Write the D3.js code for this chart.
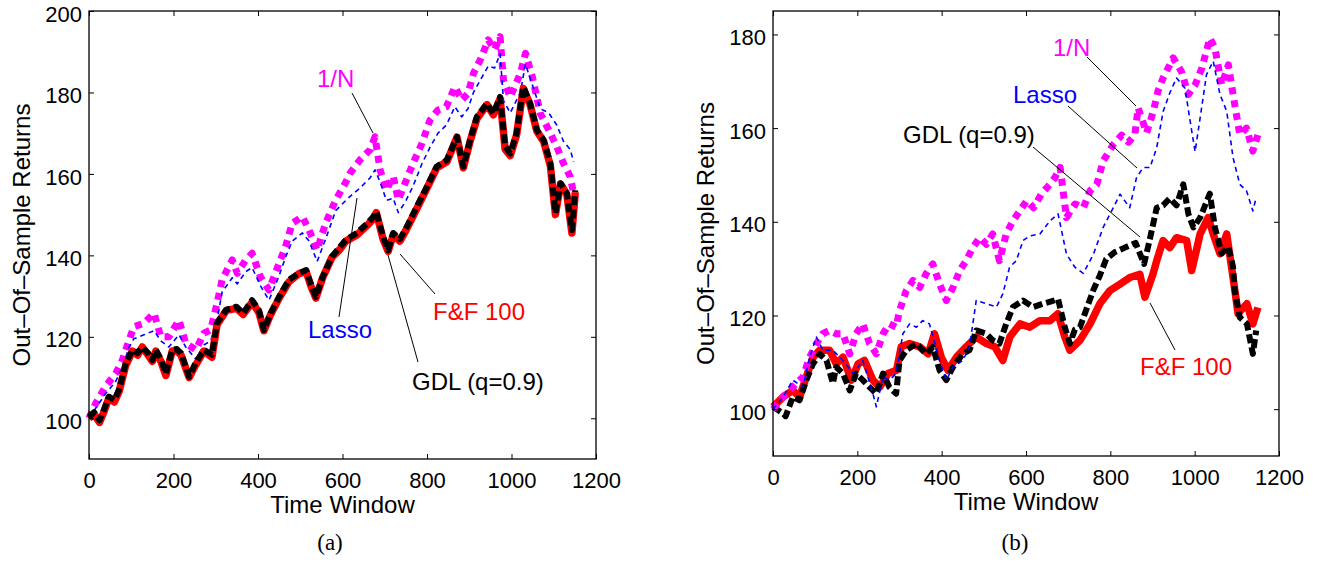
<!DOCTYPE html>
<html>
<head>
<meta charset="utf-8">
<script src="https://cdn.jsdelivr.net/npm/d3@7"></script>
<style>
  body { margin: 0; background: #fff; }
  svg { display: block; }
  text { font-family: "Liberation Sans", Arial, Helvetica, sans-serif; }
  .tick text { font-size: 22px; fill: #000; }
  .tick line { stroke: #000; stroke-width: 1; }
  .caption { font-family: "Liberation Serif", "DejaVu Serif", serif; font-size: 23px; }
</style>
</head>
<body>
<svg width="1324" height="564"></svg>
<script>
// tick labels
const xTicks = [0, 200, 400, 600, 800, 1000, 1200];
const yTicksA = [100, 120, 140, 160, 180, 200];
const yTicksB = [100, 120, 140, 160, 180];

// panel (a) series, [time window, return]
const ffA = [[0,100],[12,101],[25,99],[35,101.5],[47,105],[60,104],[71,106.5],[87,113],[103,116.5],[115,115.5],[126,117.5],[140,115.5],[150,114],[158,116.5],[170,114],[182,110.5],[197,116.5],[208,116.5],[218,115.5],[237,110],[252,113],[272,116.5],[291,115],[303,123],[325,126.5],[349,127],[365,125.5],[386,128.5],[402,126],[414,121.5],[430,125.5],[450,129.5],[473,133.5],[497,135.5],[514,136],[525,132.5],[537,129.5],[553,134.5],[575,139.5],[594,141.5],[608,143.5],[634,145],[660,147.5],[673,149],[680,150.5],[696,144],[708,141],[720,145],[736,143.5],[752,146.5],[776,151.5],[800,156.5],[823,161.5],[847,163],[871,169],[886,161.5],[902,168],[918,173.5],[942,177],[957,174.5],[973,178.5],[985,166],[997,164.5],[1012,169.5],[1028,181],[1044,177],[1060,170.5],[1076,168],[1092,162],[1104,150],[1116,157.5],[1131,155],[1143,145.5],[1151,155.5]];
const gdlA = [[0,100.4],[12,101.5],[25,99.5],[35,102],[47,105.3],[60,104.5],[71,107],[87,113.5],[103,116.8],[115,116],[126,117.5],[140,116],[150,114.3],[158,116.8],[170,114.5],[182,111],[197,116.8],[208,117],[218,116],[237,110.2],[252,113.5],[272,116.8],[291,115.6],[303,123.4],[325,126.6],[349,127.4],[365,125.8],[386,129],[402,126.6],[414,121.7],[430,125.8],[450,129.8],[473,134],[497,135.6],[514,136.4],[525,133],[537,129.8],[553,134.7],[575,139.7],[594,142.1],[608,143.8],[634,145.5],[660,148],[673,149.5],[680,150.7],[696,144.6],[708,141.3],[720,145.5],[736,144],[752,147],[776,152],[800,156.9],[823,161.8],[847,163.4],[871,169.1],[886,161.8],[902,168.3],[918,174],[942,177.3],[957,174.8],[973,178.9],[985,166.7],[997,165],[1012,170],[1028,181.4],[1044,177.3],[1060,170.8],[1076,168.3],[1092,162.6],[1104,150.4],[1116,157.7],[1131,155.2],[1143,146.2],[1151,156]];
const oneNA = [[0,100],[16,103.7],[39,107.8],[63,111],[79,114.3],[95,119.2],[106,122.5],[130,123.3],[154,125.8],[170,120],[189,120],[213,124.1],[229,118.4],[253,116.8],[272,120.9],[288,121.7],[303,128.2],[315,134],[339,138.9],[351,135.6],[371,138.9],[386,140.5],[406,134.7],[426,131.5],[450,138.1],[465,142.1],[481,147.9],[505,149.5],[521,146.2],[540,141.3],[560,147.9],[584,153.6],[608,158],[618,160.2],[641,163.4],[665,165.9],[677,169.1],[689,161],[704,156],[720,159.4],[732,153.6],[748,157.7],[767,162.6],[788,167.5],[807,173.2],[826,175.7],[846,176.5],[866,181.4],[882,178.1],[897,179.7],[910,184.7],[926,188],[945,192.9],[960,190.5],[973,193.7],[981,183],[997,178.9],[1021,184.7],[1033,189.6],[1049,184],[1068,174.9],[1088,170.8],[1107,166.7],[1123,162.6],[1139,159.3],[1147,155.2]];
const lassoA = [[0,100],[16,102.5],[39,106],[63,109],[79,112.5],[95,117.5],[106,119.5],[130,120.5],[154,121.5],[170,119],[189,117.5],[213,120.5],[229,117.5],[253,114.5],[272,118],[288,119],[303,124],[315,131],[339,134.5],[351,133],[371,136],[386,137],[406,132.5],[426,129],[450,135],[465,139.5],[481,143.5],[505,145.5],[521,143.5],[540,138.5],[560,144],[584,151],[608,153.5],[618,154.5],[641,156.5],[665,159],[677,161],[689,158],[704,153.5],[720,154],[732,150.5],[748,153],[767,157],[788,162.5],[807,166.5],[826,170],[846,172],[866,176.5],[882,174],[897,176],[910,180],[926,183],[945,186.5],[960,186],[973,189.5],[981,178],[997,175],[1021,180],[1033,187],[1049,182],[1068,176],[1088,175],[1107,172],[1123,168],[1139,166],[1147,163]];

// panel (b) series
const ffB = [[0,100.5],[24,102.6],[47,104],[63,102.6],[79,106.9],[95,111.1],[111,112.6],[134,112.6],[150,109.7],[166,111.1],[186,106.2],[202,109.7],[217,110.4],[237,106.2],[253,104.7],[273,107.6],[293,108.3],[304,113.3],[324,114],[348,113.3],[368,111.8],[383,116.1],[399,111.1],[415,108.3],[435,111.1],[458,113.3],[482,115.4],[506,114],[526,113.3],[545,110.4],[562,115.5],[586,118.2],[609,117.5],[633,118.9],[657,118.9],[676,120.4],[692,115.4],[704,112.6],[728,114.7],[752,118.2],[775,122.5],[799,125.3],[823,126.7],[846,128.1],[870,128.8],[882,123.9],[901,128.8],[910,131.7],[925,136],[941,134.5],[957,136.6],[981,136],[993,129.6],[1013,137.4],[1032,140.9],[1044,137.4],[1060,133.2],[1076,137.4],[1091,128.1],[1103,120.4],[1124,122.5],[1138,118.2],[1150,121.7]];
const gdlB = [[0,100.5],[24,99.1],[30,98.5],[47,102.6],[63,101.9],[79,106.2],[95,109.7],[111,111.8],[127,110.4],[142,105.5],[150,109],[166,107.6],[182,104],[197,107.6],[213,106.2],[229,104.7],[245,103.3],[261,107.6],[276,104.7],[292,103.3],[300,110.4],[316,112.6],[340,114],[363,111.8],[379,113.3],[395,108.3],[411,106.2],[427,109],[450,111.8],[466,112.6],[482,116.8],[506,116.1],[521,114.7],[537,114],[553,118.2],[569,121.8],[593,123.2],[617,121.8],[640,122.5],[660,123],[676,123.5],[692,117.5],[704,114],[716,117],[728,117.5],[740,120.5],[760,125.5],[775,128.5],[790,132],[810,133.5],[835,134.5],[860,135.5],[880,131],[893,136],[910,143],[925,143.5],[941,145],[957,143.5],[973,148],[985,141.7],[997,138.8],[1013,140.9],[1036,146],[1048,138.8],[1064,133.2],[1080,134.6],[1091,130.4],[1095,125.3],[1107,119.6],[1124,118.2],[1138,111.8],[1146,116.8]];
const oneNB = [[0,100],[24,102.6],[47,104.7],[71,106.9],[87,111.1],[103,114],[118,116.1],[134,116.8],[150,116.1],[166,116.1],[182,111.8],[197,116.1],[213,118.2],[229,114],[245,111.8],[261,116.1],[276,118.2],[292,117.5],[300,121],[316,125.3],[332,127.5],[348,126],[363,128.9],[379,131],[395,126.7],[411,123.2],[427,126],[443,129.6],[458,131.7],[474,134.5],[490,136.6],[506,135.2],[521,137.4],[537,131.7],[553,137.4],[569,140.2],[585,142.3],[602,144.5],[618,143],[637,146],[657,148],[669,149.5],[681,151.6],[696,140.9],[716,143.8],[736,143],[752,146.6],[768,148],[783,153],[807,156.5],[827,158.5],[843,157],[858,158.5],[866,164.3],[886,159],[902,163.6],[913,167.9],[925,170.7],[937,172.8],[949,175],[969,172],[985,167.2],[1001,169.2],[1017,172.8],[1036,179.2],[1048,177.1],[1064,169.2],[1080,173.5],[1091,167.2],[1107,158.6],[1123,160],[1138,155.1],[1150,158.6]];
const lassoB = [[0,100],[24,102.6],[47,106.2],[71,104.7],[87,111.1],[103,115.4],[118,112.6],[142,112.6],[166,110.4],[190,107.6],[213,110.4],[237,103.3],[245,100.5],[261,106.9],[276,106.2],[292,107.6],[308,116.1],[324,118.2],[340,117.5],[355,118.9],[371,118.2],[395,110.4],[411,106.2],[427,109],[450,110.4],[466,113.3],[482,123.2],[506,122.5],[530,121.8],[545,124.6],[561,130.3],[577,131.7],[593,136],[609,137],[633,137.4],[657,140.2],[676,141.7],[696,133.1],[716,130.3],[736,129],[760,133.1],[783,138.8],[807,143],[823,145.9],[846,143],[862,149.4],[878,151.6],[894,151.6],[910,155.8],[925,163.5],[941,167.5],[957,170.7],[977,168.5],[993,159.4],[1001,155],[1013,162.2],[1028,171.4],[1044,174.3],[1060,167.2],[1076,163.6],[1091,153.7],[1107,148],[1123,146.6],[1138,142.3],[1146,145.2]];

const svg = d3.select("svg");

const styles = {
  ff: { color: "#ff0000", width: 7.5, dash: null },
  gdl: { color: "#000000", width: 6, dash: "9,4" },
  oneN: { color: "#ff00ff", width: 7, dash: "7,6" },
  lasso: { color: "#0000ff", width: 1.6, dash: "5,4" }
};

function drawPanel(cfg) {
  const x = d3.scaleLinear().domain([0, 1200]).range([cfg.left, cfg.right]);
  const y = d3.scaleLinear().domain(cfg.yDomain).range([cfg.bottom, cfg.top]);
  const g = svg.append("g");

  const line = d3.line()
    .x(d => x(d[0]))
    .y(d => y(d[1]));

  cfg.series.forEach(s => {
    const st = styles[s.key];
    g.append("path")
      .datum(s.data)
      .attr("fill", "none")
      .attr("stroke", st.color)
      .attr("stroke-width", st.width)
      .attr("stroke-linejoin", "round")
      .attr("stroke-dasharray", st.dash)
      .attr("d", line);
  });

  // inward ticks on all four sides
  const ax = (axis, tr) => {
    const a = g.append("g").attr("transform", tr).call(axis);
    a.select(".domain").remove();
    return a;
  };
  ax(d3.axisBottom(x).tickValues(xTicks).tickSize(-5).tickPadding(13).tickFormat(d3.format("d")),
    `translate(0,${cfg.bottom})`);
  ax(d3.axisTop(x).tickValues(xTicks).tickSize(-5).tickFormat(""), `translate(0,${cfg.top})`);
  ax(d3.axisLeft(y).tickValues(cfg.yTicks).tickSize(-5).tickPadding(7).tickFormat(d3.format("d")),
    `translate(${cfg.left},0)`)
    .selectAll("text").attr("dy", "0.46em");
  ax(d3.axisRight(y).tickValues(cfg.yTicks).tickSize(-5).tickFormat(""), `translate(${cfg.right},0)`);

  g.append("rect")
    .attr("x", cfg.left)
    .attr("y", cfg.top)
    .attr("width", cfg.right - cfg.left)
    .attr("height", cfg.bottom - cfg.top)
    .attr("fill", "none")
    .attr("stroke", "#000")
    .attr("stroke-width", 1.3);

  g.append("text")
    .attr("x", (cfg.left + cfg.right) / 2)
    .attr("y", cfg.bottom + 54)
    .attr("text-anchor", "middle")
    .attr("font-size", 24)
    .text("Time Window");

  g.append("text")
    .attr("transform", `translate(${cfg.left - 59},${(cfg.top + cfg.bottom) / 2}) rotate(-90)`)
    .attr("text-anchor", "middle")
    .attr("font-size", 24)
    .text("Out\u2013Of\u2013Sample Returns");

  g.append("text")
    .attr("class", "caption")
    .attr("x", cfg.captionX)
    .attr("y", 550)
    .attr("text-anchor", "middle")
    .text(cfg.caption);

  cfg.notes.forEach(n => {
    g.append("line")
      .attr("x1", n.line[0]).attr("y1", n.line[1])
      .attr("x2", n.line[2]).attr("y2", n.line[3])
      .attr("stroke", "#000")
      .attr("stroke-width", 1);
    g.append("text")
      .attr("x", n.x)
      .attr("y", n.y)
      .attr("font-size", 24)
      .attr("fill", n.color)
      .text(n.text);
  });
}

drawPanel({
  left: 89, right: 596, top: 11, bottom: 459,
  yDomain: [90, 200], yTicks: yTicksA,
  caption: "(a)", captionX: 330,
  series: [
    { key: "oneN", data: oneNA },
    { key: "lasso", data: lassoA },
    { key: "ff", data: ffA },
    { key: "gdl", data: gdlA }
  ],
  notes: [
    { text: "1/N", color: "#ff00ff", x: 317, y: 87, line: [352, 93, 373, 133] },
    { text: "Lasso", color: "#0000ff", x: 308, y: 338, line: [339, 317, 357, 198] },
    { text: "GDL (q=0.9)", color: "#000", x: 412, y: 390, line: [418, 362, 388, 255] },
    { text: "F&F 100", color: "#ff0000", x: 433, y: 320, line: [435, 294, 400, 254] }
  ]
});

drawPanel({
  left: 773, right: 1279, top: 11, bottom: 456,
  yDomain: [90, 185], yTicks: yTicksB,
  caption: "(b)", captionX: 1015,
  series: [
    { key: "ff", data: ffB },
    { key: "gdl", data: gdlB },
    { key: "oneN", data: oneNB },
    { key: "lasso", data: lassoB }
  ],
  notes: [
    { text: "1/N", color: "#ff00ff", x: 1053, y: 56, line: [1087, 57, 1136, 106] },
    { text: "Lasso", color: "#0000ff", x: 1013, y: 103, line: [1068, 106, 1137, 168] },
    { text: "GDL (q=0.9)", color: "#000", x: 903, y: 143, line: [1033, 147, 1140, 237] },
    { text: "F&F 100", color: "#ff0000", x: 1140, y: 375, line: [1175, 350, 1150, 303] }
  ]
});
</script>
</body>
</html>
